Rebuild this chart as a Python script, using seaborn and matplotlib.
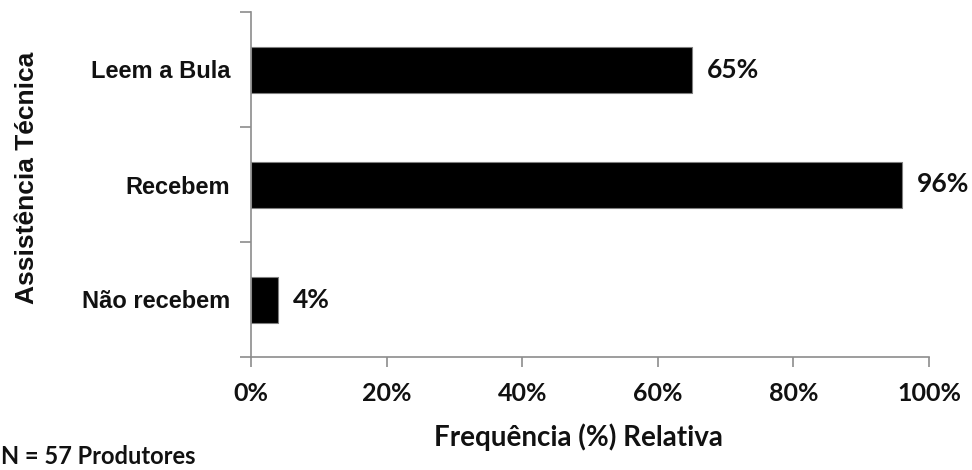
import matplotlib
matplotlib.use("Agg")
import matplotlib.pyplot as plt
from matplotlib.ticker import FixedLocator, PercentFormatter
import seaborn as sns
import pandas as pd

# Survey answers about technical assistance (share of producers, %)
categories = ["Leem a Bula", "Recebem", "Não recebem"]
values = [65, 96, 4]
x_ticks = [0, 20, 40, 60, 80, 100]
y_title = "Assistência Técnica"
x_title = "Frequência (%) Relativa"
note = "N = 57 Produtores"

sns.set_theme(style="white")
plt.rcParams["font.family"] = ["Lato", "DejaVu Sans"]

df = pd.DataFrame({"categoria": categories, "valor": values})

fig = plt.figure(figsize=(9.72, 4.70), dpi=100)
ax = fig.add_axes([251 / 972, 1 - 357 / 470, (929 - 251) / 972, (357 - 12) / 470])

sns.barplot(data=df, x="valor", y="categoria", orient="h", order=categories,
            color="black", width=0.4, edgecolor="#7f7f7f", linewidth=0.8,
            saturation=1, ax=ax)

ax.set_xlim(0, 100)
ax.set_ylim(2.5, -0.5)

# axes: gray left/bottom spines, ticks on the outside
for side in ("top", "right"):
    ax.spines[side].set_visible(False)
for side in ("left", "bottom"):
    ax.spines[side].set_color("#8c8c8c")
    ax.spines[side].set_linewidth(1.2)

ax.xaxis.set_major_locator(FixedLocator(x_ticks))
ax.xaxis.set_major_formatter(PercentFormatter(decimals=0))
ax.tick_params(axis="x", which="major", bottom=True, direction="out", length=7,
               width=1.2, color="#8c8c8c", pad=11, labelsize=18)
for lbl in ax.get_xticklabels():
    lbl.set_fontweight("bold")
    lbl.set_color("#111111")

# category labels centred on bars, tick marks on the band edges
ax.yaxis.set_minor_locator(FixedLocator([-0.5, 0.5, 1.5, 2.5]))
ax.tick_params(axis="y", which="minor", left=True, direction="out", length=8,
               width=1.2, color="#8c8c8c")
ax.tick_params(axis="y", which="major", left=False, length=0, pad=15)
for lbl in ax.get_yticklabels():
    lbl.set_fontfamily(["Liberation Sans", "DejaVu Sans"])
    lbl.set_fontsize(17)
    lbl.set_fontweight("bold")
    lbl.set_color("#111111")

ax.set_xlabel(x_title, fontsize=20, fontweight="bold", color="#111111")
ax.xaxis.set_label_coords(0.483, -0.232)
ax.xaxis.label.set_va("center")

ax.set_ylabel(y_title, fontsize=19, fontweight="bold", color="#111111",
              family=["Liberation Sans", "DejaVu Sans"])
ax.yaxis.set_label_coords(-0.33, 0.519)
ax.yaxis.label.set_va("center")

ax.bar_label(ax.containers[0], labels=[f"{v}%" for v in values], padding=11,
             fontsize=19, fontweight="bold", color="#111111")

fig.text(1 / 972, 1 - 456 / 470, note, ha="left", va="center",
         fontsize=17, fontweight="bold", color="#111111")

fig.savefig("out.png", dpi=100, facecolor="white")
